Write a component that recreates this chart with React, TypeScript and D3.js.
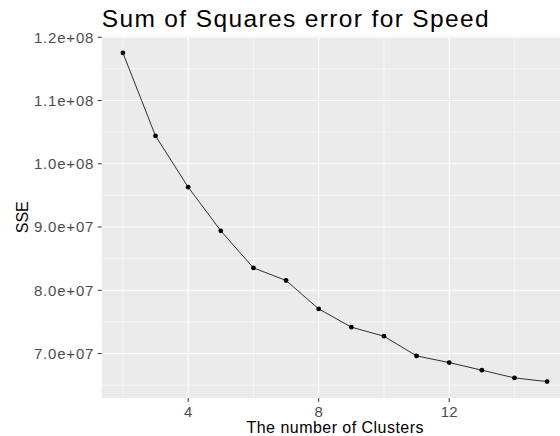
import React, { useEffect, useRef } from 'react';
import * as d3 from 'd3';

// number of clusters (k) and the within-cluster sum of squares
const clusters = [2, 3, 4, 5, 6, 7, 8, 9, 10, 11, 12, 13, 14, 15];
const sse = [
  1.1752e8, 1.044e8, 9.63e7, 8.94e7, 8.354e7, 8.155e7, 7.706e7,
  7.417e7, 7.274e7, 6.963e7, 6.857e7, 6.737e7, 6.615e7, 6.557e7,
];
const xTicks = [4, 8, 12];
const xMinor = [2, 6, 10, 14];
const yTicks = [7.0e7, 8.0e7, 9.0e7, 1.0e8, 1.1e8, 1.2e8];
const yTickLabels = ['7.0e+07', '8.0e+07', '9.0e+07', '1.0e+08', '1.1e+08', '1.2e+08'];
const yMinor = [6.5e7, 7.5e7, 8.5e7, 9.5e7, 1.05e8, 1.15e8];

const App = () => {
  const ref = useRef<SVGSVGElement>(null);

  useEffect(() => {
    const svg = d3.select(ref.current);
    svg.selectAll('*').remove();

    const width = 560;
    const height = 436;
    // panel runs past the right edge of the picture (the original was cropped)
    const panel = { left: 101.7, right: 568.3, top: 36.5, bottom: 398 };
    const font = '"Liberation Sans", Arial, sans-serif';

    const data = clusters.map((k, i) => ({ k, sse: sse[i] }));

    // ggplot's default 5% expansion
    const xr = d3.extent(clusters) as [number, number];
    const xPad = (xr[1] - xr[0]) * 0.05;
    const x = d3.scaleLinear()
      .domain([xr[0] - xPad, xr[1] + xPad])
      .range([panel.left, panel.right]);

    const yr = d3.extent(sse) as [number, number];
    const yPad = (yr[1] - yr[0]) * 0.05;
    const y = d3.scaleLinear()
      .domain([yr[0] - yPad, yr[1] + yPad])
      .range([panel.bottom, panel.top]);

    // Panel background
    svg.append('rect')
      .attr('x', panel.left)
      .attr('y', panel.top)
      .attr('width', panel.right - panel.left)
      .attr('height', panel.bottom - panel.top)
      .attr('fill', '#ebebeb');

    // Grid lines
    const grid = svg.append('g').attr('stroke', '#ffffff');
    grid.selectAll('.ymin').data(yMinor).enter().append('line')
      .attr('x1', panel.left).attr('x2', panel.right)
      .attr('y1', d => y(d)).attr('y2', d => y(d))
      .attr('stroke-width', 0.55);
    grid.selectAll('.xmin').data(xMinor).enter().append('line')
      .attr('y1', panel.top).attr('y2', panel.bottom)
      .attr('x1', d => x(d)).attr('x2', d => x(d))
      .attr('stroke-width', 0.55);
    grid.selectAll('.ymaj').data(yTicks).enter().append('line')
      .attr('x1', panel.left).attr('x2', panel.right)
      .attr('y1', d => y(d)).attr('y2', d => y(d))
      .attr('stroke-width', 1.1);
    grid.selectAll('.xmaj').data(xTicks).enter().append('line')
      .attr('y1', panel.top).attr('y2', panel.bottom)
      .attr('x1', d => x(d)).attr('x2', d => x(d))
      .attr('stroke-width', 1.1);

    // Line + points
    const line = d3.line<{ k: number; sse: number }>()
      .x(d => x(d.k))
      .y(d => y(d.sse));

    svg.append('path')
      .datum(data)
      .attr('d', line)
      .attr('fill', 'none')
      .attr('stroke', '#000')
      .attr('stroke-width', 0.8);

    svg.append('g')
      .selectAll('circle')
      .data(data)
      .enter().append('circle')
      .attr('cx', d => x(d.k))
      .attr('cy', d => y(d.sse))
      .attr('r', 2.4)
      .attr('fill', '#000');

    // Y axis
    const yAxis = svg.append('g');
    yAxis.selectAll('line').data(yTicks).enter().append('line')
      .attr('x1', panel.left - 4).attr('x2', panel.left)
      .attr('y1', d => y(d)).attr('y2', d => y(d))
      .attr('stroke', '#333333').attr('stroke-width', 1);
    yAxis.selectAll('text').data(yTicks).enter().append('text')
      .attr('x', panel.left - 7.5)
      .attr('y', d => y(d))
      .attr('dy', '0.36em')
      .attr('text-anchor', 'end')
      .attr('fill', '#4d4d4d')
      .style('font-family', font)
      .style('font-size', '15px')
      .style('letter-spacing', '0.8px')
      .text((d, i) => yTickLabels[i]);

    // X axis
    const xAxis = svg.append('g');
    xAxis.selectAll('line').data(xTicks).enter().append('line')
      .attr('y1', panel.bottom).attr('y2', panel.bottom + 4)
      .attr('x1', d => x(d)).attr('x2', d => x(d))
      .attr('stroke', '#333333').attr('stroke-width', 1);
    xAxis.selectAll('text').data(xTicks).enter().append('text')
      .attr('x', d => x(d))
      .attr('y', 417)
      .attr('text-anchor', 'middle')
      .attr('fill', '#4d4d4d')
      .style('font-family', font)
      .style('font-size', '15px')
      .text(d => String(d));

    // Axis titles
    svg.append('text')
      .attr('x', (panel.left + panel.right) / 2)
      .attr('y', 433)
      .attr('text-anchor', 'middle')
      .attr('fill', '#000')
      .attr('textLength', 177)
      .style('font-family', font)
      .style('font-size', '16px')
      .text('The number of Clusters');

    svg.append('text')
      .attr('transform', `translate(27.5,${(panel.top + panel.bottom) / 2}) rotate(-90)`)
      .attr('text-anchor', 'middle')
      .attr('fill', '#000')
      .style('font-family', font)
      .style('font-size', '16px')
      .text('SSE');

    // Title
    svg.append('text')
      .attr('x', panel.left)
      .attr('y', 27)
      .attr('fill', '#000')
      .attr('textLength', 387)
      .style('font-family', font)
      .style('font-size', '24.5px')
      .text('Sum of Squares error for Speed');

    svg.attr('width', width).attr('height', height);
  }, []);

  return (
    <svg
      ref={ref}
      width={560}
      height={436}
      style={{ position: 'absolute', left: 0, top: 0, background: '#fff', overflow: 'hidden' }}
    />
  );
};

export default App;
